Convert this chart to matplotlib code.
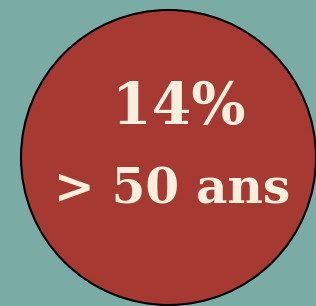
import matplotlib

matplotlib.use("Agg")
from matplotlib import pyplot as plt
from matplotlib.patches import Circle

# data
share_pct = 14
group_label = '> 50 ans'

bg_color = '#7aaba5'
circle_color = '#a63a33'
text_color = '#f8f0dd'

fig = plt.figure(figsize=(3.16, 3.06), dpi=100)
fig.patch.set_facecolor(bg_color)
ax = fig.add_axes([0, 0, 1, 1])
ax.set_xlim(0, 316)
ax.set_ylim(306, 0)
ax.axis('off')

circ = Circle((168.5, 157.5), 147.5, facecolor=circle_color,
              edgecolor='black', linewidth=1.5)
ax.add_patch(circ)

ax.text(179, 108, '{}%'.format(share_pct), color=text_color,
        fontsize=41, fontweight='bold', family='DejaVu Serif',
        ha='center', va='center')
ax.text(172, 190, group_label, color=text_color,
        fontsize=35, fontweight='bold', family='DejaVu Serif',
        ha='center', va='center')

fig.savefig('out.png', dpi=100, facecolor=bg_color)
